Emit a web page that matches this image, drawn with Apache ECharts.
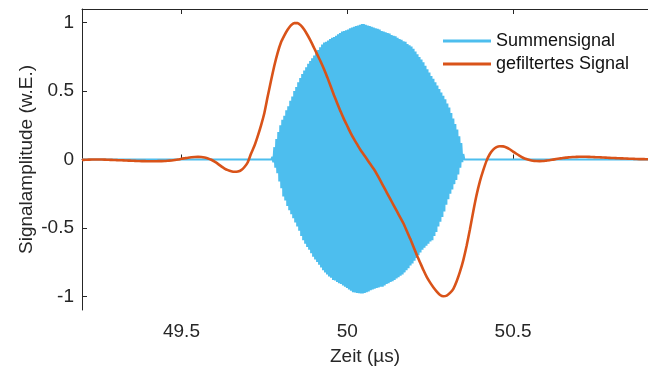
<!DOCTYPE html>
<html>
<head>
<meta charset="utf-8">
<script src="https://cdn.jsdelivr.net/npm/echarts@6/dist/echarts.min.js"></script>
<style>html,body{margin:0;padding:0;background:#fff;}#c{width:648px;height:372px;}</style>
</head>
<body>
<div id="c"></div>
<script>
const xTicks = [49.5, 50, 50.5];
const yTicks = [-1, -0.5, 0, 0.5, 1];
const xRange = [49.2, 50.907];
const yRange = [-1.1, 1.1];

// Summensignal: baseline + burst samples (alternating half-cycle extrema, read from envelope)
const burstStart = 49.774;
const burstStep = 0.003;
const burstAmp = [
 0.02,-0.02, 0.09,-0.06, 0.15,-0.10, 0.20,-0.16, 0.25,-0.21,
 0.29,-0.27, 0.32,-0.30, 0.36,-0.34, 0.39,-0.37, 0.43,-0.40,
 0.46,-0.43, 0.50,-0.46, 0.53,-0.49, 0.565,-0.52, 0.595,-0.56,
 0.625,-0.59, 0.65,-0.615, 0.675,-0.64, 0.70,-0.66, 0.72,-0.685,
 0.74,-0.71, 0.76,-0.73, 0.78,-0.75, 0.80,-0.77, 0.82,-0.79,
 0.84,-0.81, 0.855,-0.825, 0.86,-0.84, 0.87,-0.855, 0.88,-0.865,
 0.89,-0.88, 0.895,-0.885, 0.905,-0.895, 0.915,-0.905, 0.925,-0.91,
 0.935,-0.92, 0.94,-0.93, 0.945,-0.94, 0.95,-0.95, 0.96,-0.96,
 0.965,-0.97, 0.97,-0.972, 0.975,-0.975, 0.98,-0.977, 0.985,-0.98,
 0.99,-0.98, 0.99,-0.975, 0.985,-0.97, 0.98,-0.965, 0.975,-0.955,
 0.97,-0.95, 0.965,-0.945, 0.96,-0.94, 0.955,-0.935, 0.95,-0.93,
 0.94,-0.93, 0.935,-0.92, 0.93,-0.91, 0.925,-0.905, 0.92,-0.895,
 0.91,-0.89, 0.905,-0.88, 0.90,-0.87, 0.89,-0.86, 0.88,-0.85,
 0.875,-0.84, 0.865,-0.825, 0.86,-0.81, 0.845,-0.795, 0.835,-0.775,
 0.825,-0.76, 0.81,-0.74, 0.79,-0.72, 0.77,-0.70, 0.75,-0.68,
 0.73,-0.66, 0.71,-0.645, 0.685,-0.63, 0.66,-0.615, 0.635,-0.60,
 0.61,-0.59, 0.59,-0.56, 0.565,-0.53, 0.54,-0.49, 0.515,-0.455,
 0.49,-0.42, 0.465,-0.38, 0.44,-0.33, 0.41,-0.29, 0.38,-0.25,
 0.34,-0.22, 0.30,-0.18, 0.26,-0.15, 0.22,-0.11, 0.17,-0.06,
 0.12,-0.02, 0.04,0.0
];

// gefiltertes Signal: samples every 0.01 µs from 49.20
const orangeStart = 49.20;
const orangeStep = 0.01;
const orangeV = [
 -0.003,-0.002,-0.001,0.0,0.0,0.0,0.0,-0.001,-0.002,-0.003,
 -0.004,-0.005,-0.006,-0.007,-0.008,-0.009,-0.010,-0.011,-0.012,-0.012,
 -0.013,-0.013,-0.013,-0.012,-0.012,-0.011,-0.009,-0.007,-0.004,0.0,
 0.005,0.009,0.013,0.016,0.018,0.019,0.018,0.014,0.008,-0.002,
 -0.016,-0.032,-0.05,-0.066,-0.078,-0.086,-0.09,-0.088,-0.078,-0.055,
 -0.02,0.044,0.10,0.171,0.25,0.34,0.46,0.575,0.685,0.78,
 0.855,0.905,0.948,0.98,0.997,0.997,0.98,0.95,0.91,0.865,
 0.815,0.765,0.715,0.66,0.60,0.535,0.47,0.41,0.35,0.295,
 0.245,0.195,0.15,0.11,0.07,0.035,0.0,-0.035,-0.07,-0.11,
 -0.155,-0.2,-0.245,-0.29,-0.335,-0.38,-0.425,-0.47,-0.525,-0.58,
 -0.64,-0.70,-0.755,-0.81,-0.86,-0.90,-0.935,-0.965,-0.99,-1.0,
 -0.995,-0.975,-0.945,-0.89,-0.82,-0.735,-0.63,-0.51,-0.38,-0.26,
 -0.16,-0.08,-0.01,0.04,0.072,0.09,0.097,0.096,0.088,0.075,
 0.058,0.042,0.027,0.013,0.003,-0.004,-0.009,-0.011,-0.012,-0.011,
 -0.008,-0.005,-0.001,0.003,0.007,0.011,0.014,0.016,0.018,0.019,
 0.02,0.02,0.02,0.019,0.018,0.017,0.016,0.015,0.014,0.012,
 0.011,0.01,0.009,0.008,0.007,0.006,0.005,0.004,0.003,0.003,
 0.002,0.002
];

const blueData = [[xRange[0], 0], [burstStart - burstStep, 0]];
burstAmp.forEach((v, i) => blueData.push([burstStart + i * burstStep, v]));
blueData.push([burstStart + burstAmp.length * burstStep, 0]);
blueData.push([xRange[1], 0]);
const orangeData = orangeV.map((v, i) => [orangeStart + i * orangeStep, v]);

const FONT = '"Liberation Sans", Arial, Helvetica, sans-serif';
const AX = '#262626';
const chart = echarts.init(document.getElementById('c'), null, {renderer: 'canvas'});
chart.setOption({
  animation: false,
  backgroundColor: '#fff',
  textStyle: {fontFamily: FONT},
  grid: {left: 82, top: 9, right: 0, bottom: 62, containLabel: false},
  legend: {
    orient: 'vertical', left: 443, top: 31, itemGap: 3, padding: 0,
    itemWidth: 48, itemHeight: 3, icon: 'rect',
    textStyle: {fontFamily: FONT, fontSize: 18, color: '#111', lineHeight: 20},
    data: ['Summensignal', 'gefiltertes Signal']
  },
  xAxis: [{
    type: 'value', min: xRange[0], max: xRange[1], position: 'bottom',
    name: 'Zeit (µs)', nameLocation: 'middle', nameGap: 37, nameMoveOverlap: false,
    nameTextStyle: {fontFamily: FONT, fontSize: 19, color: AX},
    axisLine: {show: true, lineStyle: {color: AX, width: 1}},
    axisTick: {show: true, inside: true, length: 5, lineStyle: {color: AX}, customValues: xTicks},
    axisLabel: {show: true, margin: 12, fontFamily: FONT, fontSize: 19, color: AX, customValues: xTicks},
    splitLine: {show: false}
  }, {
    type: 'value', min: xRange[0], max: xRange[1], position: 'top',
    axisLine: {show: true, lineStyle: {color: AX, width: 1}},
    axisTick: {show: true, inside: true, length: 5, lineStyle: {color: AX}, customValues: xTicks},
    axisLabel: {show: false}, splitLine: {show: false}
  }],
  yAxis: {
    type: 'value', min: yRange[0], max: yRange[1],
    name: 'Signalamplitude (w.E.)', nameLocation: 'middle', nameGap: 46, nameMoveOverlap: false,
    nameTextStyle: {fontFamily: FONT, fontSize: 19, color: AX},
    axisLine: {show: true, lineStyle: {color: AX, width: 1}},
    axisTick: {show: true, inside: true, length: 5, lineStyle: {color: AX}, customValues: yTicks},
    axisLabel: {show: true, margin: 8, fontFamily: FONT, fontSize: 19, color: AX, customValues: yTicks},
    splitLine: {show: false}
  },
  series: [{
    name: 'Summensignal', type: 'line', data: blueData, showSymbol: false, symbol: 'none',
    lineStyle: {color: '#4DBEEE', width: 2}, itemStyle: {color: '#4DBEEE'}, z: 2
  }, {
    name: 'gefiltertes Signal', type: 'line', data: orangeData, showSymbol: false, symbol: 'none',
    smooth: 0.2,
    lineStyle: {color: '#D95319', width: 2.6}, itemStyle: {color: '#D95319'}, z: 3
  }]
});
</script>
</body>
</html>
